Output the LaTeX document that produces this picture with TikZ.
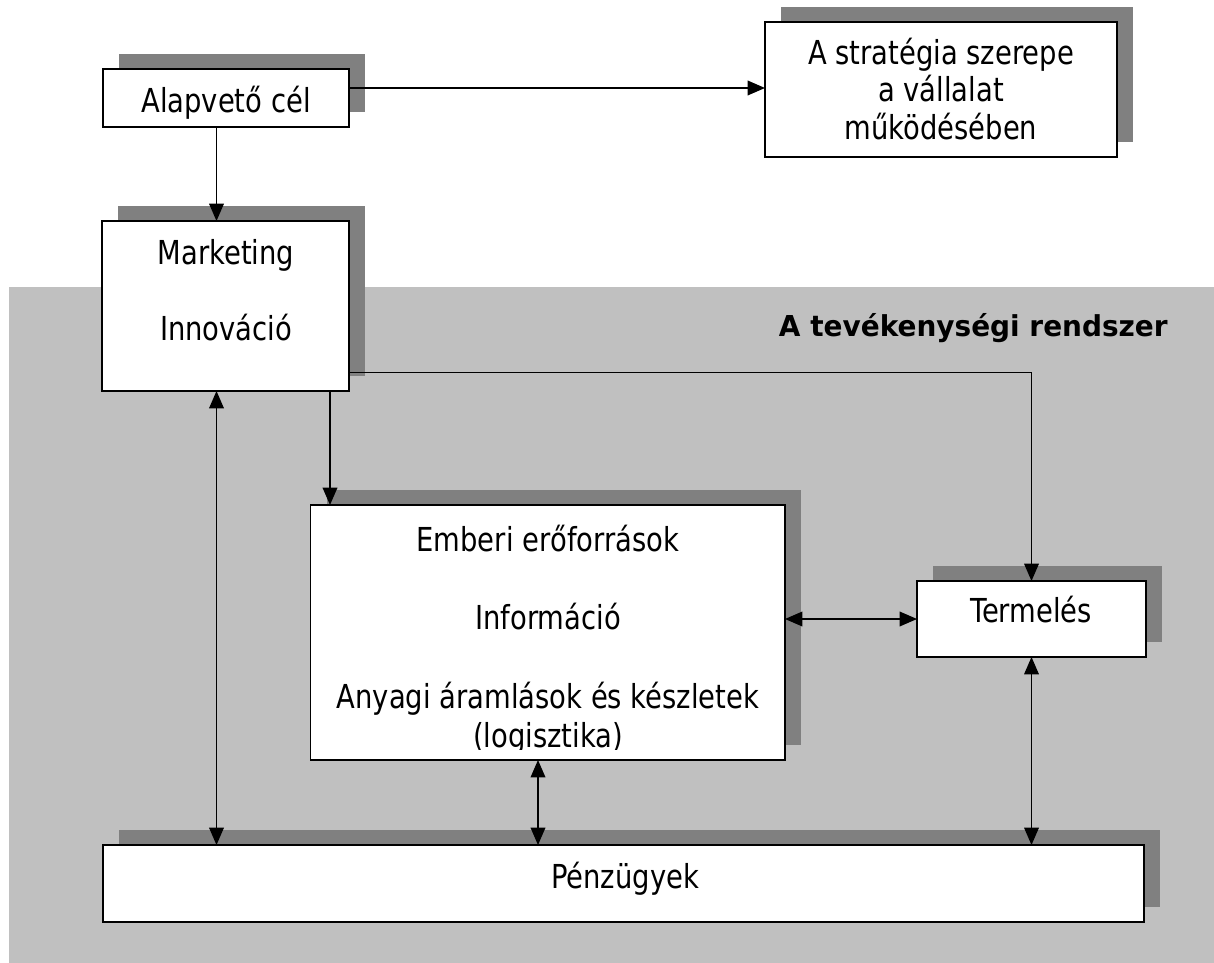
\documentclass[tikz,border=0pt]{standalone}
\usepackage{fontspec}
\setmainfont{DejaVu Sans}[FakeStretch=0.83]
\newfontfamily\titlefont{DejaVu Sans}[FakeStretch=0.97]
\usetikzlibrary{arrows.meta,shadows}
\definecolor{bggray}{HTML}{C0C0C0}
\definecolor{shgray}{HTML}{808080}
\begin{document}
\begin{tikzpicture}[x=0.75pt,y=-0.75pt,
  box/.style={draw=black, line width=1.4pt, fill=white, inner sep=0pt, outer sep=0pt, rectangle,
    general shadow={fill=shgray, shadow xshift=12pt, shadow yshift=11.25pt}},
  txt/.style={anchor=base, inner sep=0pt, font=\fontsize{24.75}{29}\selectfont},
  conn/.style={line width=1pt, -{Triangle[length=13pt,width=11pt]}},
  dconn/.style={line width=1pt, {Triangle[length=13pt,width=11pt]}-{Triangle[length=13pt,width=11pt]}}]
\useasboundingbox (0,0) rectangle (1214,963);
\fill[white] (0,0) rectangle (1214,963);
\fill[bggray] (9,287) rectangle (1214,963);

\node[box, minimum width=246*0.75pt, minimum height=58*0.75pt] (alap) at (226,98) {};
\node[box, minimum width=352*0.75pt, minimum height=135*0.75pt] (strat) at (941,89.5) {};
\node[box, minimum width=247*0.75pt, minimum height=170*0.75pt] (mark) at (225.5,306) {};
\node[box, minimum width=474.5*0.75pt, minimum height=255*0.75pt] (emb) at (547.75,632.5) {};
\node[box, minimum width=229*0.75pt, minimum height=76*0.75pt] (term) at (1031.5,619) {};
\node[box, minimum width=1041*0.75pt, minimum height=77*0.75pt] (penz) at (623.5,883.5) {};

\node[txt] (t1) at (226,112.7) {Alapvető cél};
\node[txt] (t2a) at (941,65) {A stratégia szerepe};
\node[txt] (t2b) at (941,102) {a vállalat};
\node[txt] (t2c) at (941,140) {működésében};
\node[txt] (t3a) at (226,264) {Marketing};
\node[txt] (t3b) at (226,340.7) {Innováció};
\node[txt] (t4a) at (548,551) {Emberi erőforrások};
\node[txt] (t4b) at (548,629.4) {Információ};
\node[txt] (t4c) at (548,708) {Anyagi áramlások és készletek};
\begin{scope}
  \clip (310.5,505) rectangle (785,749);
  \node[txt] (t4d) at (548,747) {(logisztika)};
\end{scope}
\node[txt] (t5) at (1031,622.7) {Termelés};
\node[txt] (t6) at (625,888.3) {Pénzügyek};
\node[anchor=base east, inner sep=0pt, font=\titlefont\bfseries\fontsize{21.6}{26}\selectfont] (title) at (1168,336) {A tevékenységi rendszer};

\coordinate (xa) at (216.5,0);
\coordinate (ya) at (0,88);
\coordinate (yb) at (0,372.5);
\coordinate (xc) at (330,0);
\coordinate (xd) at (538,0);

\draw[conn] (alap.south -| xa) -- (mark.north -| xa);
\draw[conn] (alap.east |- ya) -- (strat.west |- ya);
\draw[conn] (mark.east |- yb) -| (term.north);
\draw[conn] (mark.south -| xc) -- (emb.north -| xc);
\draw[dconn] (emb.east |- term.west) -- (term.west);
\draw[dconn] (mark.south -| xa) -- (penz.north -| xa);
\draw[dconn] (emb.south -| xd) -- (penz.north -| xd);
\draw[dconn] (term.south) -- (term.south |- penz.north);
\end{tikzpicture}
\end{document}
